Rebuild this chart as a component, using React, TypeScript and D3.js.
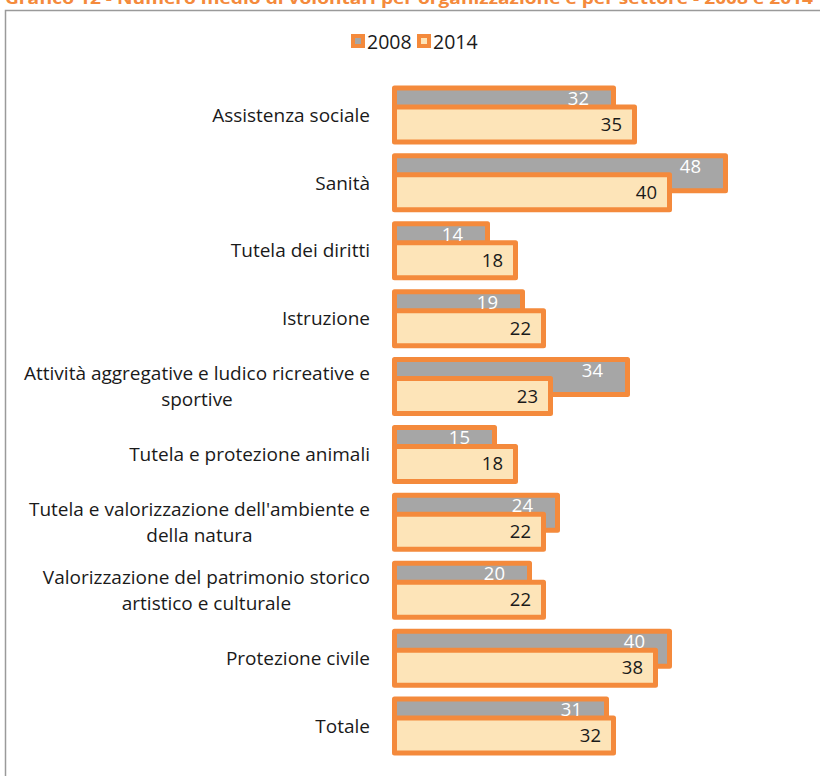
import React, { useEffect, useRef } from 'react';
import * as d3 from 'd3';

// categories (top to bottom), "\n" marks a line break in the axis label
const categories = [
  'Assistenza sociale',
  'Sanità',
  'Tutela dei diritti',
  'Istruzione',
  'Attività aggregative e ludico ricreative e\nsportive',
  'Tutela e protezione animali',
  "Tutela e valorizzazione dell'ambiente e\ndella natura",
  'Valorizzazione del patrimonio storico\nartistico e culturale',
  'Protezione civile',
  'Totale',
];
const values2008 = [32, 48, 14, 19, 34, 15, 24, 20, 40, 31];
const values2014 = [35, 40, 18, 22, 23, 18, 22, 22, 38, 32];
const seriesNames = ['2008', '2014'];

const title = 'Grafico 12 - Numero medio di volontari per organizzazione e per settore - 2008 e 2014';

const App = () => {
  const ref = useRef<SVGSVGElement>(null);

  useEffect(() => {
    const width = 820;
    const height = 776;
    const font = '"Open Sans", Lato, sans-serif';
    const orange = '#F48A3C';
    const grey = '#A6A6A6';
    const peach = '#FDE4B8';
    const sw = 5;

    const svg = d3.select(ref.current);
    svg.selectAll('*').remove();

    // title, cut by the top of the picture
    svg.append('text')
      .attr('x', 5)
      .attr('y', 4)
      .attr('fill', orange)
      .attr('font-family', font)
      .attr('font-weight', 'bold')
      .attr('font-size', 16)
      .attr('textLength', 808)
      .attr('lengthAdjust', 'spacingAndGlyphs')
      .text(title);

    // frame
    svg.append('rect')
      .attr('x', 5.5)
      .attr('y', 10.5)
      .attr('width', width)
      .attr('height', height)
      .attr('fill', 'none')
      .attr('stroke', '#9a9a9a')
      .attr('stroke-width', 1.5);

    // legend
    const legend = svg.append('g');
    const legendX = [351, 417];
    seriesNames.forEach((name, i) => {
      legend.append('rect')
        .attr('x', legendX[i] + 2)
        .attr('y', 36)
        .attr('width', 10)
        .attr('height', 10)
        .attr('fill', i === 0 ? grey : peach)
        .attr('stroke', orange)
        .attr('stroke-width', 4);
      legend.append('text')
        .attr('x', legendX[i] + 16)
        .attr('y', 48.5)
        .attr('font-family', font)
        .attr('font-size', 19.5)
        .attr('fill', '#1a1a1a')
        .text(name);
    });

    // scales
    const x = d3.scaleLinear().domain([0, 50]).range([392, 742]);
    const y = d3.scaleBand<string>()
      .domain(categories)
      .range([81, 760])
      .padding(0);
    const center = (c: string) => (y(c) as number) + y.bandwidth() / 2;

    const barH = 40;
    const shift = 19;
    const groupH = barH + shift;

    const g = svg.append('g');
    categories.forEach((c, i) => {
      const top = center(c) - groupH / 2;
      const series = [
        { v: values2008[i], y0: top, fill: grey },
        { v: values2014[i], y0: top + shift, fill: peach },
      ];
      series.forEach((s) => {
        g.append('rect')
          .attr('x', x(0) + sw / 2)
          .attr('y', s.y0 + sw / 2)
          .attr('width', x(s.v) - x(0) - sw)
          .attr('height', barH - sw)
          .attr('fill', s.fill)
          .attr('stroke', orange)
          .attr('stroke-width', sw)
          .attr('stroke-linejoin', 'round');
      });
      // labels
      g.append('text')
        .attr('x', x(values2008[i]) - 27)
        .attr('y', top + 13)
        .attr('dy', '0.35em')
        .attr('text-anchor', 'end')
        .attr('font-family', font)
        .attr('font-size', 18.5)
        .attr('fill', '#ffffff')
        .text(values2008[i]);
      g.append('text')
        .attr('x', x(values2014[i]) - 15)
        .attr('y', top + shift + barH / 2)
        .attr('dy', '0.35em')
        .attr('text-anchor', 'end')
        .attr('font-family', font)
        .attr('font-size', 18.5)
        .attr('fill', '#1a1a1a')
        .text(values2014[i]);
    });

    // category labels: block right-aligned, lines centred within the block
    const labels = svg.append('g');
    categories.forEach((c) => {
      const lines = c.split('\n');
      const t = labels.append('text')
        .attr('font-family', font)
        .attr('font-size', 19)
        .attr('fill', '#1a1a1a')
        .attr('text-anchor', 'middle');
      const lineH = 26;
      lines.forEach((line, k) => {
        t.append('tspan')
          .attr('y', center(c) + (k - (lines.length - 1) / 2) * lineH)
          .attr('dy', '0.35em')
          .text(line);
      });
      const tspans = t.selectAll<SVGTSpanElement, unknown>('tspan').nodes();
      const maxW = d3.max(tspans, (n) => n.getComputedTextLength()) || 0;
      t.selectAll('tspan').attr('x', 370 - maxW / 2);
    });
  }, []);

  return (
    <svg
      ref={ref}
      width={820}
      height={776}
      style={{ position: 'absolute', left: 0, top: 0, background: '#fff' }}
    />
  );
};

export default App;
